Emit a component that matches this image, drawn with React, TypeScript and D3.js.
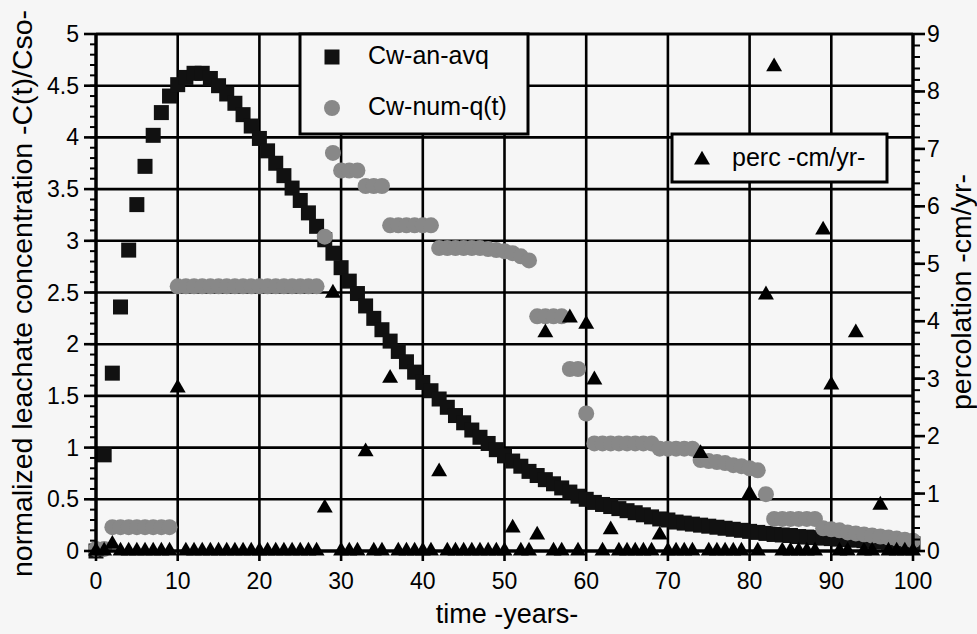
import React from 'react'
import * as d3 from 'd3'

// years 0..100, one reading per year
const YEARS = d3.range(0, 101)

// Cw-an-avq (left axis, black squares)
const CW_AN_AVQ = [
  0, 0.93, 1.72, 2.36, 2.91, 3.35, 3.72, 4.02, 4.24, 4.40,
  4.51, 4.58, 4.62, 4.62, 4.57, 4.50, 4.42, 4.33, 4.22, 4.11,
  3.99, 3.87, 3.75, 3.63, 3.51, 3.39, 3.27, 3.14, 3.01, 2.88,
  2.74, 2.61, 2.49, 2.37, 2.25, 2.14, 2.03, 1.93, 1.83, 1.73,
  1.63, 1.55, 1.47, 1.39, 1.31, 1.24, 1.17, 1.10, 1.04, 0.98,
  0.92, 0.87, 0.82, 0.77, 0.73, 0.69, 0.65, 0.61, 0.57, 0.53,
  0.50, 0.47, 0.45, 0.43, 0.41, 0.39, 0.37, 0.35, 0.33, 0.31,
  0.30, 0.28, 0.27, 0.26, 0.25, 0.24, 0.23, 0.22, 0.21, 0.20,
  0.19, 0.18, 0.17, 0.16, 0.155, 0.15, 0.14, 0.135, 0.13, 0.125,
  0.12, 0.115, 0.11, 0.105, 0.10, 0.095, 0.09, 0.085, 0.08, 0.075,
  0.07,
]

// Cw-num-q(t) (left axis, grey circles)
const CW_NUM_QT = [
  0.02, 0.02, 0.23, 0.23, 0.23, 0.23, 0.23, 0.23, 0.23, 0.23,
  2.56, 2.56, 2.56, 2.56, 2.56, 2.56, 2.56, 2.56, 2.56, 2.56,
  2.56, 2.56, 2.56, 2.56, 2.56, 2.56, 2.56, 2.56, 3.04, 3.85,
  3.68, 3.68, 3.68, 3.53, 3.53, 3.53, 3.15, 3.15, 3.15, 3.15,
  3.15, 3.15, 2.93, 2.93, 2.93, 2.93, 2.93, 2.93, 2.92, 2.91,
  2.90, 2.88, 2.85, 2.81, 2.27, 2.27, 2.27, 2.27, 1.76, 1.76,
  1.33, 1.04, 1.04, 1.04, 1.04, 1.04, 1.04, 1.04, 1.04, 0.99,
  0.99, 0.99, 0.99, 0.99, 0.88, 0.87, 0.86, 0.85, 0.83, 0.82,
  0.80, 0.78, 0.55, 0.31, 0.31, 0.31, 0.31, 0.31, 0.31, 0.22,
  0.21, 0.20, 0.18, 0.17, 0.16, 0.15, 0.14, 0.13, 0.12, 0.11,
  0.10,
]

// perc -cm/yr- (right axis, triangles)
const PERC = [
  0, 0, 0.12, 0, 0, 0, 0, 0, 0, 0,
  2.84, 0, 0, 0, 0, 0, 0, 0, 0, 0,
  0, 0, 0, 0, 0, 0, 0, 0, 0.75, 4.49,
  0, 0, 0, 1.73, 0, 0, 3.01, 0, 0, 0,
  0, 0, 1.38, 0, 0, 0, 0, 0, 0, 0,
  0, 0.40, 0, 0, 0.28, 3.80, 0, 0, 4.06, 0,
  3.95, 2.98, 0, 0.37, 0, 0, 0, 0, 0, 0.28,
  0, 0, 0, 0, 1.70, 0, 0, 0, 0, 0,
  1.00, 0, 4.46, 8.43, 0, 0, 0, 0, 0, 5.59,
  2.89, 0, 0, 3.80, 0, 0, 0.80, 0, 0, 0,
  0,
]

const BG   = '#f6f6f6'
const GREY = '#888'
const FONT = "'Liberation Sans', Arial, Helvetica, sans-serif"
const PLOT = { left: 96, right: 913, top: 34, bottom: 551 }

export default function App() {
  const x  = d3.scaleLinear().domain([0, 100]).range([PLOT.left, PLOT.right])
  const yL = d3.scaleLinear().domain([0, 5]).range([PLOT.bottom, PLOT.top])
  const yR = d3.scaleLinear().domain([0, 9]).range([PLOT.bottom, PLOT.top])

  const tri = d3.symbol(d3.symbolTriangle, 110)() as string
  const xTicks  = x.ticks(10)
  const yLTicks = yL.ticks(10)
  const yRTicks = yR.ticks(9)
  const yLMinor = d3.range(0, 50).map(i => i / 10)
  const yRMinor = d3.range(0, 45).map(i => i / 5)

  return (
    <svg width={977} height={634} style={{ position: 'absolute', left: 0, top: 0 }} fontFamily={FONT}>
      <rect width={977} height={634} fill={BG} />

      {/* grid */}
      {xTicks.filter(t => t > 0 && t < 100).map(t => (
        <line key={'gx' + t} x1={x(t)} x2={x(t)} y1={PLOT.top} y2={PLOT.bottom} stroke="#000" strokeWidth={2.6} />
      ))}
      {yLTicks.filter(t => t > 0 && t < 5).map(t => (
        <line key={'gy' + t} x1={PLOT.left} x2={PLOT.right} y1={yL(t)} y2={yL(t)} stroke="#000" strokeWidth={2.6} />
      ))}

      {/* Cw-an-avq */}
      {YEARS.map((t, i) => (
        <rect key={'s' + t} x={x(t) - 7.5} y={yL(CW_AN_AVQ[i]) - 7.5} width={15} height={15} fill="#111" />
      ))}

      {/* Cw-num-q(t) */}
      {YEARS.map((t, i) => (
        <circle key={'c' + t} cx={x(t)} cy={yL(CW_NUM_QT[i])} r={8} fill={GREY} />
      ))}

      {/* perc */}
      {YEARS.map((t, i) => (
        <path key={'t' + t} d={tri} transform={`translate(${x(t)},${yR(PERC[i])})`} fill="#000" />
      ))}

      {/* frame */}
      <line x1={PLOT.left} x2={PLOT.right} y1={PLOT.top} y2={PLOT.top} stroke="#000" strokeWidth={3} />
      <line x1={PLOT.left} x2={PLOT.right} y1={PLOT.bottom} y2={PLOT.bottom} stroke="#000" strokeWidth={3.5} />
      <line x1={PLOT.left} x2={PLOT.left} y1={PLOT.top} y2={PLOT.bottom} stroke="#000" strokeWidth={3.5} />
      <line x1={PLOT.right} x2={PLOT.right} y1={PLOT.top} y2={PLOT.bottom} stroke="#000" strokeWidth={3.5} />

      {/* left axis */}
      {yLMinor.map(v => (
        <line key={'lm' + v} x1={PLOT.left - 6} x2={PLOT.left} y1={yL(v)} y2={yL(v)} stroke="#000" strokeWidth={2} />
      ))}
      {yLTicks.map(v => (
        <g key={'lt' + v}>
          <line x1={PLOT.left - 12} x2={PLOT.left} y1={yL(v)} y2={yL(v)} stroke="#000" strokeWidth={2.6} />
          <text x={79} y={yL(v)} textAnchor="end" dominantBaseline="central" fontSize={23}>{v}</text>
        </g>
      ))}

      {/* right axis */}
      {yRMinor.map(v => (
        <line key={'rm' + v} x1={PLOT.right} x2={PLOT.right + 7} y1={yR(v)} y2={yR(v)} stroke="#000" strokeWidth={2} />
      ))}
      {yRTicks.map(v => (
        <g key={'rt' + v}>
          <line x1={PLOT.right} x2={PLOT.right + 12} y1={yR(v)} y2={yR(v)} stroke="#000" strokeWidth={2.6} />
          <text x={927} y={yR(v)} dominantBaseline="central" fontSize={23}>{v}</text>
        </g>
      ))}

      {/* bottom axis */}
      {xTicks.map(t => (
        <g key={'bt' + t}>
          <line x1={x(t)} x2={x(t)} y1={PLOT.bottom} y2={PLOT.bottom + 10} stroke="#000" strokeWidth={2.6} />
          <text x={x(t)} y={581} textAnchor="middle" dominantBaseline="central" fontSize={23}>{t}</text>
        </g>
      ))}

      {/* titles */}
      <text x={507} y={623} textAnchor="middle" fontSize={27}>time -years-</text>
      <text transform="translate(32,577) rotate(-90)" fontSize={28.5}>normalized leachate concentration -C(t)/Cso-</text>
      <text transform="translate(971,410) rotate(-90)" fontSize={28.5}>percolation -cm/yr-</text>

      {/* legends */}
      <rect x={300} y={34} width={228} height={100} fill={BG} stroke="#000" strokeWidth={3} />
      <rect x={324.5} y={49.5} width={15} height={15} fill="#111" />
      <text x={368} y={64} fontSize={25}>Cw-an-avq</text>
      <circle cx={332} cy={108} r={8} fill={GREY} />
      <text x={368} y={115} fontSize={25}>Cw-num-q(t)</text>

      <rect x={672} y={134} width={215} height={48} fill={BG} stroke="#000" strokeWidth={3} />
      <path d={tri} transform="translate(702,160)" fill="#000" />
      <text x={732} y={166} fontSize={25}>perc -cm/yr-</text>
    </svg>
  )
}
